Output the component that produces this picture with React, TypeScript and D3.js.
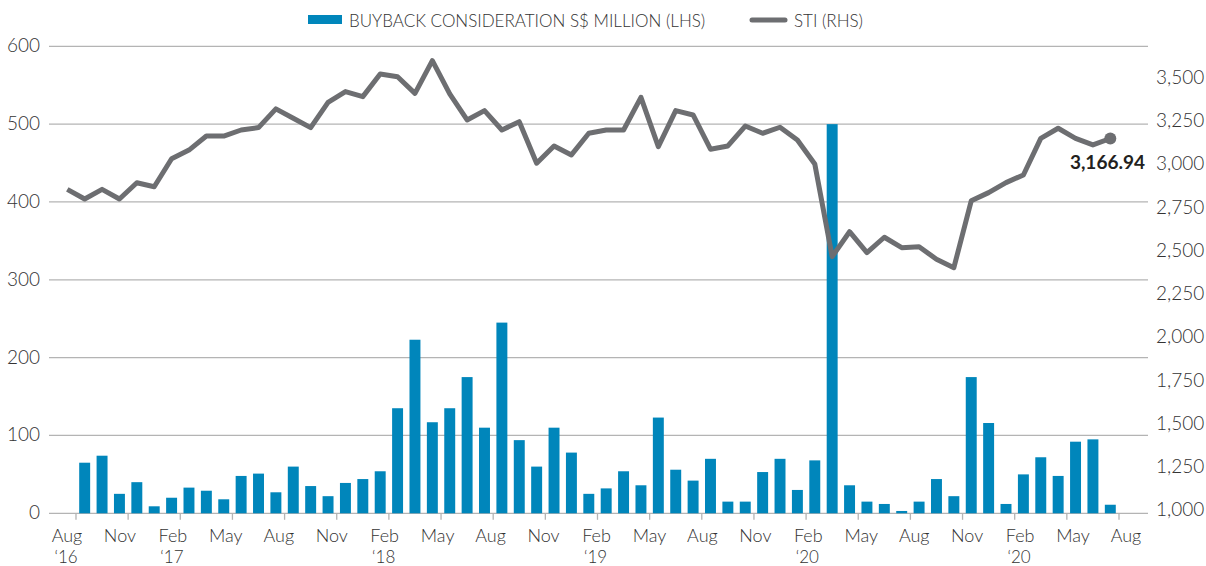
import * as d3 from 'd3';
import React, { useRef, useEffect } from 'react';

// monthly buyback consideration, S$ million, Aug '16 .. Jul '21
const buyback = [
  65, 74, 25, 40, 9,
  20, 33, 29, 18, 48, 51, 27, 60, 35, 22, 39, 44,
  54, 135, 223, 117, 135, 175, 110, 245, 94, 60, 110, 78,
  25, 32, 54, 36, 123, 56, 42, 70, 15, 15, 53, 70,
  30, 68, 500, 36, 15, 12, 3, 15, 44, 22, 175, 116,
  12, 50, 72, 48, 92, 95, 11,
];

// STI month end, Jul '16 .. Jul '21
const sti = [
  2873, 2817, 2873, 2817, 2911, 2888,
  3050, 3100, 3181, 3181, 3216, 3230, 3338, 3284, 3230, 3376, 3438, 3409,
  3540, 3524, 3428, 3617, 3425, 3274, 3328, 3216, 3264, 3024, 3124, 3072,
  3197, 3216, 3216, 3405, 3120, 3328, 3303, 3105, 3124, 3239, 3197, 3232,
  3158, 3020, 2484, 2628, 2507, 2596, 2536, 2541, 2469, 2420, 2807, 2854,
  2912, 2956, 3168, 3226, 3168, 3130, 3166.94,
];

const tickMonths = ['Aug', 'Nov', 'Feb', 'May', 'Aug', 'Nov', 'Feb', 'May', 'Aug', 'Nov', 'Feb',
  'May', 'Aug', 'Nov', 'Feb', 'May', 'Aug', 'Nov', 'Feb', 'May', 'Aug'];
const tickYears = ['‘16', '', '‘17', '', '', '', '‘18', '', '', '', '‘19',
  '', '', '', '‘20', '', '', '', '‘20', '', ''];

const leftTicks = [0, 100, 200, 300, 400, 500, 600];
const rightTicks = [1000, 1250, 1500, 1750, 2000, 2250, 2500, 2750, 3000, 3250, 3500];

const W = 1206;
const H = 566;
const FONT = 'Lato, "Open Sans", sans-serif';

const App: React.FC = () => {
  const ref = useRef<SVGSVGElement>(null);

  useEffect(() => {
    const svg = d3.select(ref.current);
    svg.selectAll('*').remove();

    const months = d3.timeMonths(new Date(2016, 6, 1), new Date(2021, 7, 1));
    const fmt = d3.timeFormat('%Y-%m');
    const keys = months.map(d => fmt(d));

    const x = d3.scaleBand<string>()
      .domain(keys)
      .range([58.6, 1119])
      .paddingInner(0.37)
      .paddingOuter(0.185);
    const step = x.step();
    const cx = (k: string) => (x(k) ?? 0) + x.bandwidth() / 2;

    const yL = d3.scaleLinear().domain([0, 600]).range([513.3, 46.3]);
    const yR = d3.scaleLinear().domain([1000, 3700]).range([513.3, 46.3]);

    const x0 = 49;
    const x1 = 1148;

    // gridlines
    svg.append('g')
      .selectAll('line')
      .data(leftTicks)
      .join('line')
      .attr('x1', x0).attr('x2', x1)
      .attr('y1', d => yL(d)).attr('y2', d => yL(d))
      .attr('stroke', '#b4b4b4')
      .attr('stroke-width', 1.3);

    // axis ticks: every third month from Aug '16, plus the end of the range
    const tickKeys = keys.filter((_, i) => i >= 1 && (i - 1) % 3 === 0);
    const tickX = tickKeys.map(k => cx(k) - step / 2).concat([cx(keys[keys.length - 1]) + step / 2]);
    svg.append('g')
      .selectAll('line')
      .data(tickX)
      .join('line')
      .attr('x1', d => d).attr('x2', d => d)
      .attr('y1', yL(0)).attr('y2', yL(0) + 6.5)
      .attr('stroke', '#b4b4b4')
      .attr('stroke-width', 1.3);

    // bars
    const barKeys = keys.slice(1);
    svg.append('g')
      .selectAll('rect')
      .data(buyback)
      .join('rect')
      .attr('x', (_, i) => x(barKeys[i]) ?? 0)
      .attr('width', x.bandwidth())
      .attr('y', d => yL(d))
      .attr('height', d => yL(0) - yL(d))
      .attr('fill', '#0086bb');

    // STI line
    const line = d3.line<number>()
      .x((_, i) => cx(keys[i]))
      .y(d => yR(d));
    svg.append('path')
      .datum(sti)
      .attr('d', line)
      .attr('fill', 'none')
      .attr('stroke', '#6d6e71')
      .attr('stroke-width', 5)
      .attr('stroke-linejoin', 'round');

    const last = sti[sti.length - 1];
    svg.append('circle')
      .attr('cx', cx(keys[keys.length - 1]))
      .attr('cy', yR(last))
      .attr('r', 6)
      .attr('fill', '#6d6e71');

    svg.append('text')
      .attr('x', 1145)
      .attr('y', 168.5)
      .attr('text-anchor', 'end')
      .attr('font-family', FONT)
      .attr('font-weight', 700)
      .attr('font-size', 19)
      .attr('fill', '#231f20')
      .text(d3.format(',.2f')(last));

    // left axis labels
    svg.append('g')
      .selectAll('text')
      .data(leftTicks)
      .join('text')
      .attr('x', 40)
      .attr('y', d => yL(d) + 6)
      .attr('text-anchor', 'end')
      .attr('font-family', FONT)
      .attr('font-weight', 300)
      .attr('font-size', 19)
      .attr('fill', '#333')
      .text(d => d);

    // right axis labels
    svg.append('g')
      .selectAll('text')
      .data(rightTicks)
      .join('text')
      .attr('x', 1156)
      .attr('y', d => yR(d) + 3)
      .attr('font-family', FONT)
      .attr('font-weight', 300)
      .attr('font-size', 19)
      .attr('fill', '#333')
      .text(d => d3.format(',')(d));

    // month / year labels
    const lx = d3.scalePoint<number>()
      .domain(d3.range(tickMonths.length))
      .range([67, 1126]);
    const xl = svg.append('g')
      .attr('font-family', FONT)
      .attr('font-weight', 300)
      .attr('fill', '#333')
      .attr('text-anchor', 'middle');
    xl.selectAll('text.m')
      .data(tickMonths)
      .join('text')
      .attr('class', 'm')
      .attr('x', (_, i) => lx(i) ?? 0)
      .attr('y', 541.8)
      .attr('font-size', 18)
      .text(d => d);
    xl.selectAll('text.y')
      .data(tickYears.map((t, i) => ({ t, i })).filter(d => d.t !== ''))
      .join('text')
      .attr('class', 'y')
      .attr('x', d => (lx(d.i) ?? 0) - 1)
      .attr('y', 562.5)
      .attr('font-size', 17)
      .text(d => d.t);

    // legend
    const lg = svg.append('g')
      .attr('font-family', FONT)
      .attr('font-weight', 300)
      .attr('font-size', 17)
      .attr('fill', '#333');
    lg.append('rect')
      .attr('x', 308).attr('y', 15)
      .attr('width', 34).attr('height', 9)
      .attr('fill', '#0086bb');
    lg.append('text')
      .attr('x', 349).attr('y', 26.5)
      .text('BUYBACK CONSIDERATION S$ MILLION (LHS)');
    lg.append('line')
      .attr('x1', 752).attr('x2', 785)
      .attr('y1', 20).attr('y2', 20)
      .attr('stroke', '#6d6e71')
      .attr('stroke-width', 5)
      .attr('stroke-linecap', 'round');
    lg.append('text')
      .attr('x', 794).attr('y', 26.5)
      .text('STI (RHS)');
  }, []);

  return (
    <svg
      ref={ref}
      width={W}
      height={H}
      style={{ position: 'absolute', left: 0, top: 0, background: '#fff' }}
    />
  );
};

export default App;
